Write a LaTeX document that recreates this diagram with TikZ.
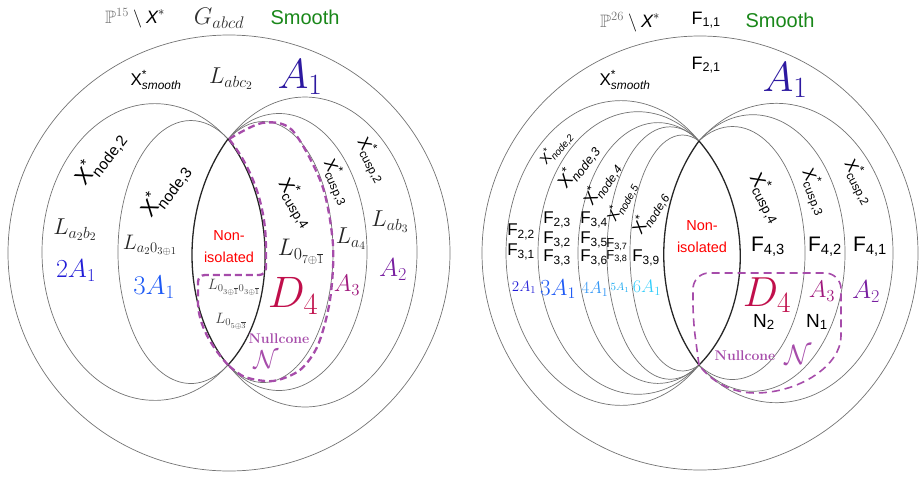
\RequirePackage{fix-cm}
\documentclass[tikz,border=0pt]{standalone}
\usepackage{amsmath,amssymb}
\usepackage{fontspec}
\setsansfont{Liberation Sans}
\definecolor{nullc}{RGB}{166,76,170}
\definecolor{indA}{RGB}{45,25,160}
\definecolor{blueA}{RGB}{35,30,215}
\definecolor{blueB}{RGB}{30,90,245}
\definecolor{blueC}{RGB}{50,150,245}
\definecolor{blueD}{RGB}{30,170,240}
\definecolor{blueE}{RGB}{50,205,250}
\definecolor{purA}{RGB}{120,30,160}
\definecolor{magA}{RGB}{160,25,125}
\definecolor{crimD}{RGB}{192,15,75}
\definecolor{greenS}{RGB}{25,135,25}
\newcommand{\XsUp}[1]{$\textsf{X}^{\textsf{*}}_{\textsf{#1}}$}
\newcommand{\XsIt}[1]{$\textsf{X}^{\textsf{*}}_{\textsf{\itshape #1}}$}
\newcommand{\Fs}[1]{\textsf{F}$_{\textsf{#1}}$}
\begin{document}
\begin{tikzpicture}[x=1pt,y=-1pt,
  ln/.style={draw=black!55, line width=0.7pt},
  lens/.style={draw=black!85, line width=1.3pt},
  nulldash/.style={draw=nullc, line width=2.3pt, dash pattern=on 7pt off 4pt},
  nulldashthin/.style={draw=nullc, line width=1.6pt, dash pattern=on 8pt off 5pt},
  sz/.style={font=\fontsize{#1}{#1}\selectfont},
  lab/.style={inner sep=0pt, anchor=center}]
\useasboundingbox (0,0) rectangle (920,479);

% ================= LEFT DIAGRAM =================
\draw[ln] (229,253) ellipse[x radius=221, y radius=218];
% left family
\draw[ln, shift={(154.7,252)}] (49.4:112.7 and 148.4) arc[start angle=49.4, end angle=310.6, x radius=112.7, y radius=148.4];
\draw[ln, shift={(190.8,252)}] (59.3:72.8 and 131.5) arc[start angle=59.3, end angle=300.7, x radius=72.8, y radius=131.5];
% right family
\draw[ln, shift={(263.3,252)}] (120.4:69.7 and 130.5) arc[start angle=120.4, end angle=-120.4, x radius=69.7, y radius=130.5];
\draw[ln, shift={(279,252)}] (125.2:88 and 138.5) arc[start angle=125.2, end angle=-125.2, x radius=88, y radius=138.5];
\draw[ln, shift={(305,252)}] (133.4:112 and 155) arc[start angle=133.4, end angle=-133.4, x radius=112, y radius=155];
% lens
\draw[lens] (228,139) .. controls (180,205) and (180,307) .. (228,365) .. controls (279,310) and (276,200) .. (228,139);
% nullcone
\draw[nulldash] plot[smooth] coordinates {(229,139) (262,123) (292,130) (322,185) (333,245) (330,300) (318,345) (300,370) (273,381) (245,377) (228,365)};
\draw[nulldash, rounded corners=7] (228,365) .. controls (207,342) and (198,320) .. (198,295) -- (198,275) -- (266,275) -- (266,245) .. controls (264,200) and (250,165) .. (229,139);

% labels
\node[lab, sz=18] (lP) at (135,18) {$\textcolor{black!55}{\mathbb{P}^{15}}\setminus \textsf{\itshape X}^*$};
\node[lab, sz=24, text=black!80] (lG) at (219,18) {$G_{abcd}$};
\node[lab, sz=20, text=greenS] (lS) at (305,17) {\textsf{Smooth}};
\node[lab, sz=17] (lXs) at (156,80) {\XsIt{smooth}};
\node[lab, sz=23, text=black!85] (lLabc) at (231,79) {$L_{abc_2}$};
\node[lab, sz=42, text=indA] (lA1) at (300,77) {$A_1$};
\node[lab, sz=22, rotate=52] (lXn2) at (100,158) {\XsUp{node,2}};
\node[lab, sz=22, rotate=53] (lXn3) at (165,190) {\XsUp{node,3}};
\node[lab, sz=23, text=black!85] (lLa2b2) at (75,230) {$L_{a_2b_2}$};
\node[lab, sz=21, text=black!85] (lLa203) at (150,245) {$L_{a_20_{3\oplus 1}}$};
\node[lab, sz=26, text=blueA] (l2A1) at (76,271) {$2A_1$};
\node[lab, sz=27, text=blueB] (l3A1) at (154,287) {$3A_1$};
\node[lab, text=red, align=center, font=\fontsize{14.5}{22}\selectfont\sffamily] (lNon) at (229,247) {Non-\\isolated};
\node[lab, sz=19, rotate=-58] (lXc4) at (296,203) {\XsUp{cusp,4}};
\node[lab, sz=17, rotate=-66] (lXc3) at (337,182) {\XsUp{cusp,3}};
\node[lab, sz=17, rotate=-62] (lXc2) at (372,160) {\XsUp{cusp,2}};
\node[lab, sz=24, text=black!85] (lL07) at (301,252) {$L_{0_{7\oplus\overline{1}}}$};
\node[lab, sz=23, text=black!85] (lLa4) at (351,239) {$L_{a_4}$};
\node[lab, sz=23, text=black!85] (lLab3) at (390,222) {$L_{ab_3}$};
\node[lab, sz=24, text=magA] (lA3) at (347,285) {$A_3$};
\node[lab, sz=26, text=purA] (lA2) at (393,270) {$A_2$};
\node[lab, sz=44, text=crimD] (lD4) at (293,296) {$D_4$};
\node[lab, sz=15, text=black!75] (lL0303) at (234,287) {$L_{0_{3\oplus\overline{1}}0_{3\oplus\overline{1}}}$};
\node[lab, sz=15, text=black!75] (lL05) at (231,321) {$L_{0_{5\oplus\overline{3}}}$};
\node[lab, sz=14, text=nullc] (lNull) at (279,339) {\textbf{Nullcone}};
\node[lab, sz=26, text=nullc] (lN) at (266,360) {$\mathcal{N}$};

% ================= RIGHT DIAGRAM =================
\draw[ln] (700,253) ellipse[x radius=218, y radius=217];
% left family
\draw[ln, shift={(621,253)}] (47.3:115 and 152.4) arc[start angle=47.3, end angle=312.7, x radius=115, y radius=152.4];
\draw[ln, shift={(638,253)}] (52.4:100 and 141.3) arc[start angle=52.4, end angle=307.6, x radius=100, y radius=141.3];
\draw[ln, shift={(658,253)}] (59.2:80 and 130.4) arc[start angle=59.2, end angle=300.8, x radius=80, y radius=130.4];
\draw[ln, shift={(670,253)}] (62.6:63 and 126.2) arc[start angle=62.6, end angle=297.4, x radius=63, y radius=126.2];
\draw[ln, shift={(682.5,253)}] (71.7:52.5 and 118) arc[start angle=71.7, end angle=288.3, x radius=52.5, y radius=118];
% right family
\draw[ln, shift={(732.5,253)}] (117.5:72.5 and 126.5) arc[start angle=117.5, end angle=-117.5, x radius=72.5, y radius=126.5];
\draw[ln, shift={(752.8,253)}] (125.7:92.2 and 138.3) arc[start angle=125.7, end angle=-125.7, x radius=92.2, y radius=138.3];
\draw[ln, shift={(776.4,253)}] (131.6:116.6 and 149.7) arc[start angle=131.6, end angle=-131.6, x radius=116.6, y radius=149.7];
% lens
\draw[lens] (699,141) .. controls (652,205) and (652,305) .. (699,365) .. controls (754,310) and (754,205) .. (699,141);
% nullcone
\draw[nulldashthin, rounded corners=16] (699,365) -- (693,320) -- (693,273) -- (841,273) -- (841,320) [sharp corners] .. controls (841,365) and (800,393) .. (755,393) .. controls (730,393) and (710,380) .. (699,365);

% labels
\node[lab, sz=18] (rP) at (630,22) {$\textcolor{black!55}{\mathbb{P}^{26}}\setminus \textsf{\itshape X}^*$};
\node[lab, sz=18] (rF11) at (706,20) {\Fs{1,1}};
\node[lab, sz=20, text=greenS] (rS) at (780,20) {\textsf{Smooth}};
\node[lab, sz=17] (rXs) at (625,80) {\XsIt{smooth}};
\node[lab, sz=18] (rF21) at (706,65) {\Fs{2,1}};
\node[lab, sz=42, text=indA] (rA1) at (785,80) {$A_1$};
\node[lab, sz=14, rotate=50] (rXn2) at (556,148) {\XsIt{node,2}};
\node[lab, sz=18, rotate=52] (rXn3) at (578,166) {\XsIt{node,3}};
\node[lab, sz=17, rotate=56] (rXn4) at (602,184) {\XsIt{node,4}};
\node[lab, sz=15, rotate=62] (rXn5) at (622,202) {\XsIt{node,5}};
\node[lab, sz=17, rotate=58] (rXn6) at (650,213) {\XsIt{node,6}};
\node[lab, sz=17] (rF22) at (521,232) {\Fs{2,2}};
\node[lab, sz=17] (rF31) at (521,252) {\Fs{3,1}};
\node[lab, sz=17] (rF23) at (557,220) {\Fs{2,3}};
\node[lab, sz=17] (rF32) at (557,240) {\Fs{3,2}};
\node[lab, sz=17] (rF33) at (557,258) {\Fs{3,3}};
\node[lab, sz=17] (rF34) at (594,220) {\Fs{3,4}};
\node[lab, sz=17] (rF35) at (594,240) {\Fs{3,5}};
\node[lab, sz=17] (rF36) at (594,258) {\Fs{3,6}};
\node[lab, sz=13] (rF37) at (617,245) {\Fs{3,7}};
\node[lab, sz=13] (rF38) at (617,257) {\Fs{3,8}};
\node[lab, sz=17] (rF39) at (646,258) {\Fs{3,9}};
\node[lab, sz=15, text=blueA] (r2A1) at (524,287) {$2A_1$};
\node[lab, sz=23, text=blueB] (r3A1) at (558,289) {$3A_1$};
\node[lab, sz=17, text=blueC] (r4A1) at (595,289) {$4A_1$};
\node[lab, sz=11, text=blueD] (r5A1) at (620,288) {$5A_1$};
\node[lab, sz=18, text=blueE] (r6A1) at (647,288) {$6A_1$};
\node[lab, text=red, align=center, font=\fontsize{14.5}{22}\selectfont\sffamily] (rNon) at (702,237) {Non-\\isolated};
\node[lab, sz=19, rotate=-62] (rXc4) at (766,198) {\XsUp{cusp,4}};
\node[lab, sz=17, rotate=-68] (rXc3) at (815,192) {\XsUp{cusp,3}};
\node[lab, sz=17, rotate=-62] (rXc2) at (859,182) {\XsUp{cusp,2}};
\node[lab, sz=21] (rF43) at (768,247) {\Fs{4,3}};
\node[lab, sz=21] (rF42) at (825,247) {\Fs{4,2}};
\node[lab, sz=21] (rF41) at (870,247) {\Fs{4,1}};
\node[lab, sz=42, text=crimD] (rD4) at (767,295) {$D_4$};
\node[lab, sz=24, text=magA] (rA3) at (822,291) {$A_3$};
\node[lab, sz=26, text=purA] (rA2) at (866,292) {$A_2$};
\node[lab, sz=19] (rN2) at (764,322) {\textsf{N}$_{\textsf{2}}$};
\node[lab, sz=19] (rN1) at (817,322) {\textsf{N}$_{\textsf{1}}$};
\node[lab, sz=14, text=nullc] (rNull) at (745,356) {\textbf{Nullcone}};
\node[lab, sz=28, text=nullc] (rN) at (798,355) {$\mathcal{N}$};
\end{tikzpicture}
\end{document}
